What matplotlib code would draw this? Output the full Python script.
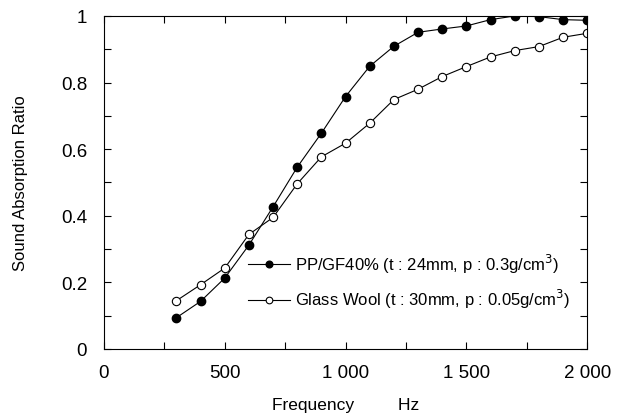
import numpy as np
import matplotlib
matplotlib.use('Agg')
import matplotlib.pyplot as plt
from matplotlib.ticker import MultipleLocator, FuncFormatter

plt.rcParams['font.family'] = ['Liberation Sans', 'DejaVu Sans']

freq = [300, 400, 500, 600, 700, 800, 900, 1000, 1100, 1200,
        1300, 1400, 1500, 1600, 1700, 1800, 1900, 2000]
pp_gf40 = [0.094, 0.143, 0.213, 0.312, 0.427, 0.546, 0.648, 0.758, 0.849, 0.909,
           0.951, 0.961, 0.970, 0.989, 1.000, 0.998, 0.989, 0.987]
glass_wool = [0.145, 0.193, 0.243, 0.344, 0.395, 0.496, 0.577, 0.618, 0.678, 0.749,
              0.780, 0.818, 0.848, 0.877, 0.896, 0.908, 0.936, 0.948]

label_pp = r'PP/GF40% (t : 24mm, p : 0.3g/cm$^3$)'
label_gw = r'Glass Wool (t : 30mm, p : 0.05g/cm$^3$)'

fig = plt.figure(figsize=(6.26, 4.14), dpi=100)
ax = fig.add_axes([0.166, 0.1546, 0.772, 0.8044])

ax.plot(freq, pp_gf40, '-o', color='black', lw=0.8, ms=6,
        mfc='black', mec='black', label=label_pp)
ax.plot(freq, glass_wool, '-o', color='black', lw=0.8, ms=6,
        mfc='white', mec='black', mew=0.8, label=label_gw)

ax.set_xlim(0, 2000)
ax.set_ylim(0, 1)

ax.xaxis.set_major_locator(MultipleLocator(250))
ax.yaxis.set_major_locator(MultipleLocator(0.1))

def xfmt(v, pos):
    if int(round(v)) % 500:
        return ''
    return '{:,}'.format(int(round(v))).replace(',', ' ')

def yfmt(v, pos):
    k = int(round(v * 10))
    if k % 2:
        return ''
    if k == 0:
        return '0'
    if k == 10:
        return '1'
    return '{:.1f}'.format(v)

ax.xaxis.set_major_formatter(FuncFormatter(xfmt))
ax.yaxis.set_major_formatter(FuncFormatter(yfmt))
ax.tick_params(direction='in', length=5, width=0.8, top=True, right=True,
               labelsize=13.5)
ax.tick_params(axis='x', pad=11)
ax.tick_params(axis='y', pad=12)
for s in ax.spines.values():
    s.set_linewidth(0.8)

ax.set_xlabel('Frequency         Hz', fontsize=12.5, labelpad=11)
ax.set_ylabel('Sound Absorption Ratio', fontsize=12, labelpad=24)

leg = ax.legend(loc='upper left', bbox_to_anchor=(0.298, 0.292), frameon=False,
                fontsize=12, markerscale=0.8, handlelength=2.5,
                handletextpad=0.35, labelspacing=0.75, borderpad=0,
                borderaxespad=0)

fig.savefig('out.png', dpi=100)
